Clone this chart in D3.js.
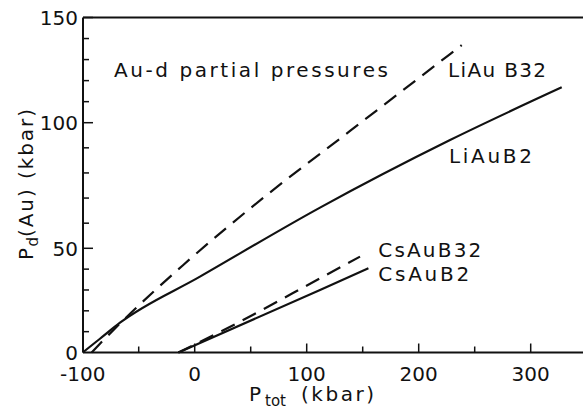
<!DOCTYPE html>
<html>
<head>
<meta charset="utf-8">
<script src="https://cdn.jsdelivr.net/npm/d3@7"></script>
<style>
  body { margin: 0; background: #fff; }
  text { font-family: "DejaVu Sans", sans-serif; fill: #111; }
</style>
</head>
<body>
<div id="chart"></div>
<script>
// values (x = P_tot kbar, y = P_d(Au) kbar)
var liB2X  = [-100, -84.6, -66.7, 4.7, 111.9, 228.0, 327.7];
var liB2Y  = [0, 6.6, 14.3, 36.4, 66.2, 93.1, 116.8];
var liB32X = [-92, -84.6, -66.7, -10.2, 64.3, 138.7, 238.4];
var liB32Y = [0, 4.2, 13.9, 42.0, 71.2, 96.7, 136.9];
var csB2X  = [-14.6, 111.9, 155.1];
var csB2Y  = [0, 30.0, 40.4];
var csB32X = [-14.6, 28.6, 111.9, 147.6];
var csB32Y = [0, 11.5, 35.6, 46.0];

var xMajor = [-100, 0, 100, 200, 300];
var xMinor = [-50, 50, 150, 250];
var yMajor = [0, 50, 100, 150];
var yMinor = [10, 20, 30, 40, 60, 70, 80, 90, 110, 120, 130, 140];

var labels = [
    {text: "LiAu B32", x: 226.2, y: 121.7, len: 98},
    {text: "LiAuB2", x: 227, y: 83.8, len: 83},
    {text: "CsAuB32", x: 163.9, y: 46, len: 103},
    {text: "CsAuB2", x: 163.9, y: 34.4, len: 91}
];

var W = 583, H = 406;
var plotLeft = 83, plotTop = 17.5, plotBottom = 352.5;

var svg = d3.select("#chart").append("svg")
    .attr("width", W)
    .attr("height", H);

var x = d3.scaleLinear().domain([-100, 300]).range([82.7, 530.7]);
// the printed axis is not evenly spaced, so the scale is piecewise
var y = d3.scaleLinear().domain([0, 50, 100, 150]).range([plotBottom, 248.3, 122.7, plotTop]);

// frame
svg.append("line").attr("x1", plotLeft).attr("x2", plotLeft).attr("y1", plotTop).attr("y2", plotBottom)
    .attr("stroke", "#111").attr("stroke-width", 2);
svg.append("line").attr("x1", plotLeft).attr("x2", W).attr("y1", plotBottom).attr("y2", plotBottom)
    .attr("stroke", "#111").attr("stroke-width", 2);
svg.append("line").attr("x1", plotLeft).attr("x2", W).attr("y1", plotTop).attr("y2", plotTop)
    .attr("stroke", "#111").attr("stroke-width", 2);

// ticks (inward)
svg.selectAll(".xmaj").data(xMajor.slice(1)).enter().append("line")
    .attr("x1", function(d) { return x(d); }).attr("x2", function(d) { return x(d); })
    .attr("y1", plotBottom).attr("y2", plotBottom - 9)
    .attr("stroke", "#111").attr("stroke-width", 1.5);
svg.selectAll(".xmin").data(xMinor).enter().append("line")
    .attr("x1", function(d) { return x(d); }).attr("x2", function(d) { return x(d); })
    .attr("y1", plotBottom).attr("y2", plotBottom - 6)
    .attr("stroke", "#111").attr("stroke-width", 1.5);
svg.selectAll(".ymaj").data(yMajor.slice(1)).enter().append("line")
    .attr("x1", plotLeft).attr("x2", plotLeft + 10)
    .attr("y1", function(d) { return y(d); }).attr("y2", function(d) { return y(d); })
    .attr("stroke", "#111").attr("stroke-width", 1.5);
svg.selectAll(".ymin").data(yMinor).enter().append("line")
    .attr("x1", plotLeft).attr("x2", plotLeft + 6)
    .attr("y1", function(d) { return y(d); }).attr("y2", function(d) { return y(d); })
    .attr("stroke", "#111").attr("stroke-width", 1.5);

// tick labels
svg.selectAll(".xlab").data(xMajor).enter().append("text")
    .attr("x", function(d) { return x(d); })
    .attr("y", 381)
    .attr("text-anchor", "middle")
    .style("font-size", "20px")
    .text(function(d) { return d < 0 ? "-" + Math.abs(d) : d; });
svg.selectAll(".ylab").data(yMajor).enter().append("text")
    .attr("x", 78)
    .attr("y", function(d) { return y(d) + 7.5; })
    .attr("text-anchor", "end")
    .style("font-size", "20px")
    .text(function(d) { return d; });

// axis titles
svg.append("text").attr("x", 249).attr("y", 401).style("font-size", "20px").text("P");
svg.append("text").attr("x", 265).attr("y", 406).style("font-size", "15px").text("tot");
svg.append("text").attr("x", 301).attr("y", 401).style("font-size", "20px")
    .attr("textLength", 73).attr("lengthAdjust", "spacing").text("(kbar)");

var yt = svg.append("g").attr("transform", "translate(33,260) rotate(-90)");
yt.append("text").attr("x", 0).attr("y", 0).style("font-size", "20px").text("P");
yt.append("text").attr("x", 13.5).attr("y", 5).style("font-size", "15px").text("d");
yt.append("text").attr("x", 23).attr("y", 0).style("font-size", "20px")
    .attr("textLength", 128).attr("lengthAdjust", "spacing").text("(Au) (kbar)");

svg.append("text").attr("x", 114).attr("y", 77)
    .style("font-size", "20px")
    .attr("textLength", 274).attr("lengthAdjust", "spacing")
    .text("Au-d partial pressures");

// curves
var line = d3.line()
    .x(function(d) { return x(d[0]); })
    .y(function(d) { return y(d[1]); })
    .curve(d3.curveMonotoneX);

function drawCurve(xs, ys, dashed) {
    svg.append("path")
        .datum(d3.zip(xs, ys))
        .attr("d", line)
        .attr("fill", "none")
        .attr("stroke", "#111")
        .attr("stroke-width", 2.2)
        .attr("stroke-dasharray", dashed ? "15,9" : null);
}
drawCurve(liB2X, liB2Y, false);
drawCurve(liB32X, liB32Y, true);
drawCurve(csB2X, csB2Y, false);
drawCurve(csB32X, csB32Y, true);

svg.selectAll(".clab").data(labels).enter().append("text")
    .attr("x", function(d) { return x(d.x); })
    .attr("y", function(d) { return y(d.y); })
    .attr("textLength", function(d) { return d.len; })
    .attr("lengthAdjust", "spacing")
    .style("font-size", "20px")
    .text(function(d) { return d.text; });
</script>
</body>
</html>
